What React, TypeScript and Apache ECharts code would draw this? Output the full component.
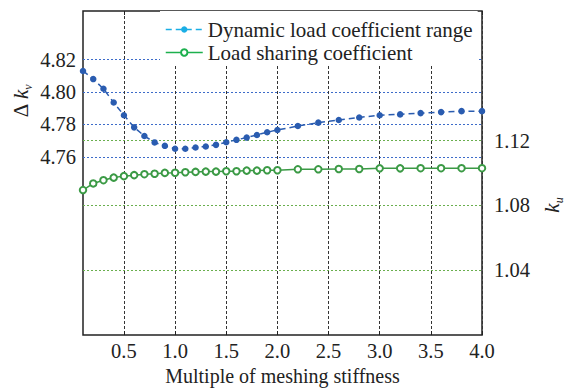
import React, { useEffect, useRef } from "react";
import * as echarts from "echarts";

// Multiple of meshing stiffness (x)
const stiffness = [
  0.1, 0.2, 0.3, 0.4, 0.5, 0.6, 0.7, 0.8, 0.9, 1.0,
  1.1, 1.2, 1.3, 1.4, 1.5, 1.6, 1.7, 1.8, 1.9, 2.0,
  2.2, 2.4, 2.6, 2.8, 3.0, 3.2, 3.4, 3.6, 3.8, 4.0,
];

// Dynamic load coefficient range, Δk_v (left axis)
const dynamicLoadRange = [
  4.813, 4.808, 4.802, 4.7935, 4.7857, 4.7782, 4.7729, 4.7689, 4.7668, 4.765,
  4.765, 4.7658, 4.7664, 4.7674, 4.769, 4.7705, 4.7719, 4.7735, 4.7752, 4.7766,
  4.779, 4.7811, 4.7827, 4.7843, 4.7857, 4.7862, 4.787, 4.7876, 4.7882, 4.7882,
];

// Load sharing coefficient, k_u (right axis)
const loadSharing = [
  1.0895, 1.0936, 1.0956, 1.0972, 1.0981, 1.0987, 1.0993, 1.0996, 1.1001, 1.1002,
  1.1005, 1.1007, 1.1009, 1.1009, 1.1011, 1.1011, 1.1015, 1.1015, 1.1017, 1.1017,
  1.1023, 1.1023, 1.1025, 1.1025, 1.1029, 1.1029, 1.103, 1.103, 1.103, 1.103,
];

const xTicks = [0.5, 1.0, 1.5, 2.0, 2.5, 3.0, 3.5, 4.0];
const leftTicks = [4.76, 4.78, 4.8, 4.82];
const rightTicks = [1.04, 1.08, 1.12];

const seriesNames = ["Dynamic load coefficient range", "Load sharing coefficient"];

const FONT = "Liberation Serif";

export default function App() {
  const ref = useRef<HTMLDivElement>(null);

  useEffect(() => {
    if (!ref.current) return;
    const chart = echarts.init(ref.current, null, { renderer: "svg" });

    const tickText = { fontFamily: FONT, fontSize: 20.5, color: "#222" };

    chart.setOption({
      animation: false,
      backgroundColor: "#fff",
      grid: {
        left: 83,
        right: 85,
        top: 11,
        bottom: 51,
        show: true,
        borderColor: "#222",
        borderWidth: 1.5,
        backgroundColor: "transparent",
      },
      legend: {
        orient: "vertical",
        left: 160,
        top: 11,
        z: 10,
        padding: [8, 5, 3, 5],
        backgroundColor: "#ffffff",
        itemWidth: 37,
        itemHeight: 8,
        itemGap: 2,
        textStyle: { fontFamily: FONT, fontSize: 21, color: "#222" },
        data: [
          {
            name: seriesNames[0],
            itemStyle: { color: "#1aaee5" },
            lineStyle: { color: "#1aaee5", type: [6, 4], width: 1.5 },
          },
          {
            name: seriesNames[1],
            itemStyle: { color: "#1db04e", borderColor: "#1db04e", borderWidth: 1.5 },
            lineStyle: { color: "#1db04e", width: 1.5 },
          },
        ],
      },
      xAxis: [
        {
          type: "value",
          min: 0.1,
          max: 4.0,
          name: "Multiple of meshing stiffness",
          nameLocation: "middle",
          nameGap: 27,
          nameTextStyle: { fontFamily: FONT, fontSize: 20, color: "#222" },
          axisLine: { show: false },
          axisTick: {
            show: true,
            inside: true,
            length: 4,
            customValues: xTicks,
            lineStyle: { color: "#222" },
          },
          axisLabel: {
            ...tickText,
            margin: 5,
            customValues: xTicks,
            formatter: (v: number) => v.toFixed(1),
          },
          splitLine: {
            show: true,
            lineStyle: { color: "#333", type: [3, 2], width: 1 },
          },
        },
        {
          type: "value",
          position: "top",
          min: 0.1,
          max: 4.0,
          axisLine: { show: false },
          axisTick: {
            show: true,
            inside: true,
            length: 4,
            customValues: xTicks,
            lineStyle: { color: "#222" },
          },
          axisLabel: { show: false },
          splitLine: { show: false },
        },
      ],
      yAxis: [
        {
          type: "value",
          min: 4.65,
          max: 4.85,
          axisLine: { show: false },
          axisTick: { show: false, customValues: leftTicks },
          axisLabel: {
            ...tickText,
            margin: 7,
            customValues: leftTicks,
            formatter: (v: number) => v.toFixed(2),
          },
          splitLine: {
            show: true,
            lineStyle: { color: "#3d6cc9", type: [2, 2], width: 1 },
          },
        },
        {
          type: "value",
          min: 1.0,
          max: 1.2,
          position: "right",
          axisLine: { show: false },
          axisTick: { show: false, customValues: rightTicks },
          axisLabel: {
            ...tickText,
            margin: 12,
            customValues: rightTicks,
            formatter: (v: number) => v.toFixed(2),
          },
          splitLine: {
            show: true,
            lineStyle: { color: "#6aaf4e", type: [2, 2], width: 1 },
          },
        },
      ],
      graphic: [
        {
          type: "text",
          x: 21,
          y: 101,
          rotation: Math.PI / 2,
          style: {
            text: "{d|Δ }{k|k}{s|v}",
            align: "center",
            verticalAlign: "middle",
            fill: "#222",
            rich: {
              d: { fontFamily: FONT, fontSize: 21, lineHeight: 26, fill: "#222" },
              k: { fontFamily: FONT, fontSize: 21, fontStyle: "italic", lineHeight: 26, fill: "#222" },
              s: { fontFamily: FONT, fontSize: 12, fontStyle: "italic", verticalAlign: "bottom", lineHeight: 26, fill: "#222" },
            },
          },
        },
        {
          type: "text",
          x: 552,
          y: 205,
          rotation: Math.PI / 2,
          style: {
            text: "{k|k}{s|u}",
            align: "center",
            verticalAlign: "middle",
            fill: "#222",
            rich: {
              k: { fontFamily: FONT, fontSize: 21, fontStyle: "italic", lineHeight: 26, fill: "#222" },
              s: { fontFamily: FONT, fontSize: 12, fontStyle: "italic", verticalAlign: "bottom", lineHeight: 26, fill: "#222" },
            },
          },
        },
      ],
      series: [
        {
          name: seriesNames[0],
          type: "line",
          xAxisIndex: 0,
          yAxisIndex: 0,
          data: stiffness.map((x, i) => [x, dynamicLoadRange[i]]),
          symbol: "circle",
          symbolSize: 6.5,
          clip: false,
          lineStyle: { color: "#2a5cb0", type: [6, 4], width: 1.5 },
          itemStyle: { color: "#2a5cb0" },
        },
        {
          name: seriesNames[1],
          type: "line",
          xAxisIndex: 0,
          yAxisIndex: 1,
          data: stiffness.map((x, i) => [x, loadSharing[i]]),
          symbol: "emptyCircle",
          symbolSize: 6.5,
          clip: false,
          lineStyle: { color: "#3b9a45", width: 1.5 },
          itemStyle: { color: "#3b9a45", borderWidth: 1.3 },
        },
      ],
    });

    return () => chart.dispose();
  }, []);

  return (
    <div
      ref={ref}
      style={{ position: "fixed", left: 0, top: 0, width: 567, height: 391 }}
    />
  );
}
